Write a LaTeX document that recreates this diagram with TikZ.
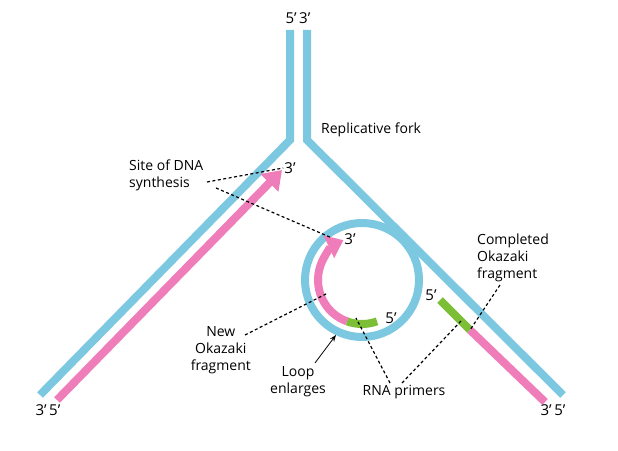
\documentclass[tikz,border=0pt]{standalone}
\usepackage{fontspec}
\setmainfont{Open Sans}
\usetikzlibrary{arrows.meta,calc}
\definecolor{strand}{RGB}{125,200,225}
\definecolor{newdna}{RGB}{238,125,185}
\definecolor{primer}{RGB}{125,190,55}
\begin{document}
\begin{tikzpicture}[x=1pt, y=1pt, >=Stealth]
\tikzset{
  dna/.style={line width=8pt, strand},
  fresh/.style={line width=8pt, newdna},
  rna/.style={line width=8pt, primer},
  end label/.style={font=\fontsize{15}{17}\selectfont, inner sep=1pt},
  note/.style={font=\fontsize{14}{17}\selectfont, align=left, inner sep=1pt},
  pointer/.style={line width=1.2pt, dash pattern=on 3pt off 2.5pt}
}
\useasboundingbox (0,0) rectangle (618,450);

% parental strands
\coordinate (top-l) at (290,420);
\coordinate (fork-l) at (290,310);
\coordinate (end-l) at (40,55);
\coordinate (top-r) at (307,420);
\coordinate (fork-r) at (307,310);
\coordinate (end-r) at (563,55);
\draw [dna, line join=miter] (top-l) -- (fork-l) -- (end-l);
\draw [dna, line join=miter] (top-r) -- (fork-r) -- (end-r);

% leading strand
\coordinate (lead-start) at (57,50);
\coordinate (lead-tip) at (282,280);
\draw [fresh, -{Triangle[length=18pt,width=24pt]}] (lead-start) -- (lead-tip);

% loop
\coordinate (loop) at (362,170);
\draw [dna] (loop) circle [radius=57];
\draw [rna] ($(loop)+(250:44)$) arc [start angle=250, end angle=290, radius=44];
\draw [fresh, -{Triangle[length=16pt,width=24pt]}] ($(loop)+(250:44)$) arc [start angle=250, end angle=115, radius=44];

% completed Okazaki fragment
\coordinate (ok-a) at (440,150);
\coordinate (ok-b) at (470,120);
\coordinate (ok-c) at (545,48);
\draw [rna] (ok-a) -- (ok-b);
\draw [fresh] (ok-b) -- (ok-c);

% end labels
\node [end label] (l53) at (298,432) {5'\,3'};
\node [end label] (l35a) at (48,40) {3'\,5'};
\node [end label] (l35b) at (553,40) {3'\,5'};
\node [end label] (l3a) at (290,282) {3'};
\node [end label] (l3b) at (350,211) {3'};
\node [end label] (l5a) at (391,132) {5'};
\node [end label] (l5b) at (431,155) {5'};

% notes
\node [note, anchor=west] (fork) at (320,320) {Replicative fork};
\node [note, anchor=west] (site) at (128,275) {Site of DNA\\synthesis};
\node [note, anchor=west] (done) at (476,192) {Completed\\Okazaki\\fragment};
\node [note, anchor=east, align=center] (new) at (252,100) {New\\Okazaki\\fragment};
\node [note, anchor=north, align=center] (grow) at (298,85) {Loop\\enlarges};
\node [note, anchor=north] (rnap) at (404,66) {RNA primers};

% pointers
\coordinate (p-site1) at (207,268);
\coordinate (p-site2) at (216,262);
\draw [pointer] (p-site1) -- (l3a.west);
\draw [pointer] (p-site2) -- (332,212);
\coordinate (p-done) at (500,165);
\draw [pointer] (p-done) -- (ok-b);
\coordinate (p-new) at (245,115);
\draw [pointer] (p-new) -- (326,156);
\draw [->, line width=0.8pt] (grow.north east) ++(-12,2) coordinate (p-grow) -- (336,115);
\coordinate (p-rna1) at (390,67);
\coordinate (p-rna2) at (402,67);
\draw [pointer] (p-rna1) -- (356,132);
\draw [pointer] (p-rna2) -- (462,130);
\end{tikzpicture}
\end{document}
